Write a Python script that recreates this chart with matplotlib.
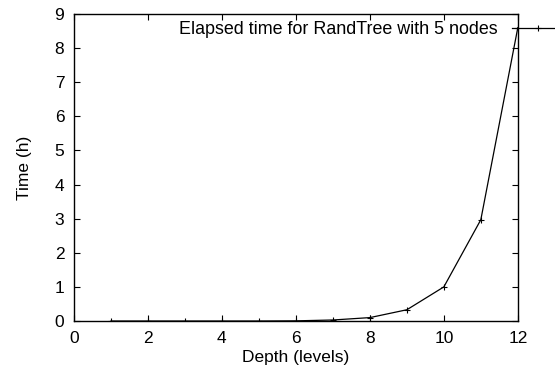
import matplotlib
matplotlib.use('Agg')
import matplotlib.pyplot as plt

# depth of the tree vs. elapsed time
depth = [1, 2, 3, 4, 5, 6, 7, 8, 9, 10, 11, 12]
hours = [0.0, 0.0, 0.0, 0.0, 0.0, 0.005, 0.03, 0.1, 0.33, 1.0, 2.97, 8.6]
series_label = 'Elapsed time for RandTree with 5 nodes'
xticks = [0, 2, 4, 6, 8, 10, 12]
yticks = [0, 1, 2, 3, 4, 5, 6, 7, 8, 9]

plt.rcParams['font.family'] = ['Liberation Sans', 'DejaVu Sans']
plt.rcParams['font.size'] = 12.5

fig = plt.figure(figsize=(5.55, 3.77), dpi=100)
ax = fig.add_axes([0.1333, 0.1485, 0.7997, 0.8143])

ax.plot(depth, hours, color='black', lw=0.9, marker='+', ms=5, mew=0.8,
        label=series_label)

ax.set_xlim(0, 12)
ax.set_ylim(0, 9)
ax.set_xticks(xticks)
ax.set_yticks(yticks)
ax.tick_params(direction='in', top=True, right=True, length=4, width=0.8, pad=7)
for s in ax.spines.values():
    s.set_linewidth(1.0)

ax.set_xlabel('Depth (levels)', labelpad=3)
ax.set_ylabel('Time (h)', labelpad=16)

leg = ax.legend(loc='upper right', bbox_to_anchor=(1.104, 0.977), frameon=False,
                markerfirst=False, handlelength=2.9, handletextpad=0.8,
                borderpad=0.0, borderaxespad=0.0, numpoints=1, fontsize=12.9)
leg.set_clip_on(False)

fig.savefig('out.png', dpi=100)
